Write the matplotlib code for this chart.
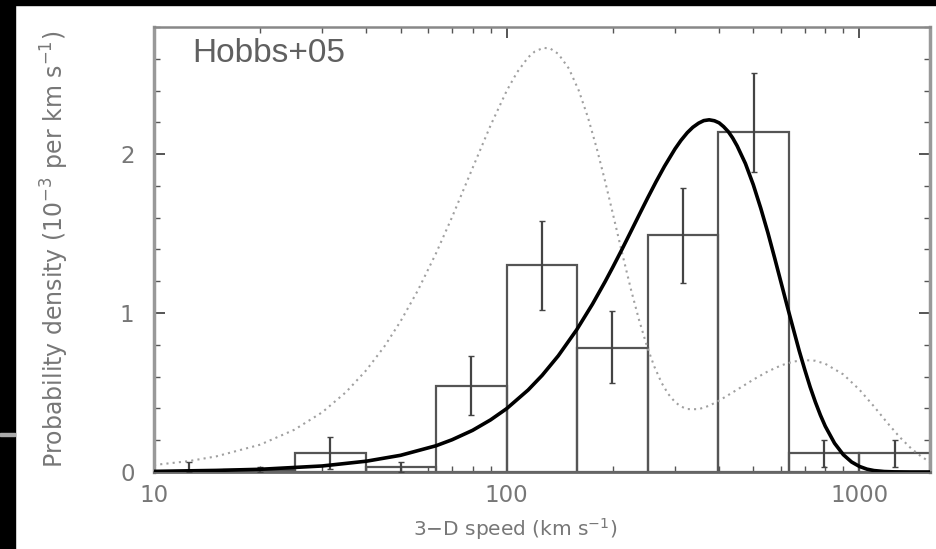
import matplotlib
matplotlib.use("Agg")
import matplotlib.pyplot as plt
from matplotlib.patches import Rectangle
from matplotlib.ticker import LogLocator, NullFormatter, MultipleLocator

# histogram bins (km/s) and probability density (1e-3 per km/s)
bin_edges = [10, 15.8, 25.1, 39.8, 63.1, 100, 158, 251, 398, 631, 1000, 1585]
bin_heights = [0.0, 0.01, 0.12, 0.03, 0.54, 1.30, 0.78, 1.49, 2.14, 0.12, 0.12]
err_low = [0.0, 0.01, 0.10, 0.03, 0.18, 0.28, 0.22, 0.30, 0.25, 0.09, 0.09]
err_high = [0.06, 0.02, 0.10, 0.03, 0.19, 0.28, 0.23, 0.30, 0.37, 0.08, 0.08]

# solid curve
fit_speed = [10, 15, 20, 30, 40, 50, 63, 70, 80, 90, 100, 115, 126, 140, 158,
             175, 190, 200, 212, 225, 238, 251, 265, 280, 300, 312, 325, 337,
             350, 362, 375, 388, 400, 412, 425, 437, 450, 475, 500, 525, 550,
             575, 600, 625, 650, 675, 700, 725, 750, 775, 800, 850, 900, 950,
             1000, 1050, 1100, 1175, 1250, 1400, 1585]
fit_density = [0.004, 0.010, 0.017, 0.038, 0.068, 0.105, 0.165, 0.203, 0.262,
               0.328, 0.399, 0.516, 0.608, 0.731, 0.896, 1.056, 1.197, 1.290,
               1.399, 1.514, 1.623, 1.725, 1.826, 1.923, 2.033, 2.087, 2.135,
               2.169, 2.195, 2.211, 2.216, 2.210, 2.197, 2.173, 2.141, 2.102,
               2.052, 1.941, 1.808, 1.660, 1.506, 1.346, 1.189, 1.038, 0.897,
               0.762, 0.643, 0.534, 0.440, 0.358, 0.288, 0.181, 0.109, 0.063,
               0.035, 0.018, 0.009, 0.003, 0.001, 0.0, 0.0]

# dotted curve
alt_speed = [10, 12.5, 15, 20, 25, 30, 35, 40, 45, 50, 56, 63, 70, 80, 90, 100,
             107, 115, 120, 127, 133, 140, 150, 160, 170, 180, 190, 200, 212,
             225, 237, 250, 262, 275, 287, 300, 312, 325, 350, 375, 400, 450,
             500, 550, 600, 650, 700, 750, 800, 900, 1000, 1100, 1200, 1300,
             1400, 1500, 1585]
alt_density = [0.044, 0.068, 0.098, 0.172, 0.266, 0.376, 0.502, 0.641, 0.790,
               0.948, 1.143, 1.375, 1.604, 1.912, 2.181, 2.399, 2.515, 2.609,
               2.645, 2.669, 2.664, 2.631, 2.539, 2.401, 2.230, 2.036, 1.831,
               1.624, 1.385, 1.149, 0.960, 0.789, 0.664, 0.560, 0.491, 0.440,
               0.412, 0.396, 0.395, 0.417, 0.449, 0.518, 0.581, 0.633, 0.671,
               0.695, 0.704, 0.700, 0.681, 0.614, 0.518, 0.412, 0.309, 0.220,
               0.149, 0.096, 0.063]

W, H = 937, 549
fig = plt.figure(figsize=(W / 100, H / 100), dpi=100)
ax = fig.add_axes([154 / W, (H - 472) / H, 776 / W, 445 / H])

# scan borders
fig.patches.append(Rectangle((0, 0), 15 / W, 1, transform=fig.transFigure,
                             color="black", zorder=0))
fig.patches.append(Rectangle((0, 1 - 5 / H), 1, 5 / H, transform=fig.transFigure,
                             color="black", zorder=0))
fig.patches.append(Rectangle((0, (H - 436) / H), 15 / W, 3 / H,
                             transform=fig.transFigure, color="#aaaaaa", zorder=1))

lefts = bin_edges[:-1]
widths = [bin_edges[i + 1] - bin_edges[i] for i in range(len(lefts))]
centers = [(bin_edges[i] * bin_edges[i + 1]) ** 0.5 for i in range(len(lefts))]

ax.bar(lefts, bin_heights, width=widths, align="edge", facecolor="none",
       edgecolor="#555555", linewidth=1.6, zorder=2)
ax.errorbar(centers, bin_heights, yerr=[err_low, err_high], fmt="none",
            ecolor="#444444", elinewidth=1.6, capsize=2, zorder=3)

ax.plot(alt_speed, alt_density, color="#a0a0a0", linestyle=(0, (1, 2)),
        linewidth=1.5, zorder=2)
ax.plot(fit_speed, fit_density, color="black", linewidth=2.6, zorder=4,
        solid_joinstyle="round")

ax.set_xscale("log")
ax.set_xlim(10, 1585)
ax.set_ylim(0, 2.8)

ax.set_xticks([10, 100, 1000])
ax.set_xticklabels(["10", "100", "1000"])
ax.xaxis.set_minor_locator(LogLocator(base=10, subs=range(2, 10)))
ax.xaxis.set_minor_formatter(NullFormatter())
ax.set_yticks([0, 1, 2])
ax.set_yticklabels(["0", "1", "2"])
ax.yaxis.set_minor_locator(MultipleLocator(0.2))

ax.tick_params(which="both", direction="in", top=True, right=True,
               colors="#555555", labelcolor="#777777", labelsize=16.5)
ax.tick_params(which="major", length=8, width=1.4)
ax.tick_params(which="minor", length=4, width=1.0)
ax.tick_params(axis="x", pad=9)
ax.tick_params(axis="y", pad=14)

for side in ["left", "right"]:
    ax.spines[side].set_color("#999999")
    ax.spines[side].set_linewidth(2.5)
ax.spines["top"].set_color("#888888")
ax.spines["top"].set_linewidth(1.8)
ax.spines["bottom"].set_color("#666666")
ax.spines["bottom"].set_linewidth(2.0)

ax.set_xlabel(r"3$-$D speed (km s$^{-1}$)", fontsize=14.5, color="#777777")
ax.xaxis.set_label_coords(0.465, -0.10)
ax.set_ylabel(r"Probability density (10$^{-3}$ per km s$^{-1}$)", fontsize=17,
              color="#777777")
ax.yaxis.set_label_coords(-0.107, 0.5)

ax.text(0.049, 0.921, "Hobbs+05", transform=ax.transAxes, fontsize=24,
        family=["Liberation Sans", "DejaVu Sans"], color="#606060",
        va="baseline", ha="left", zorder=5)

fig.savefig("out.png", dpi=100, facecolor="white")
